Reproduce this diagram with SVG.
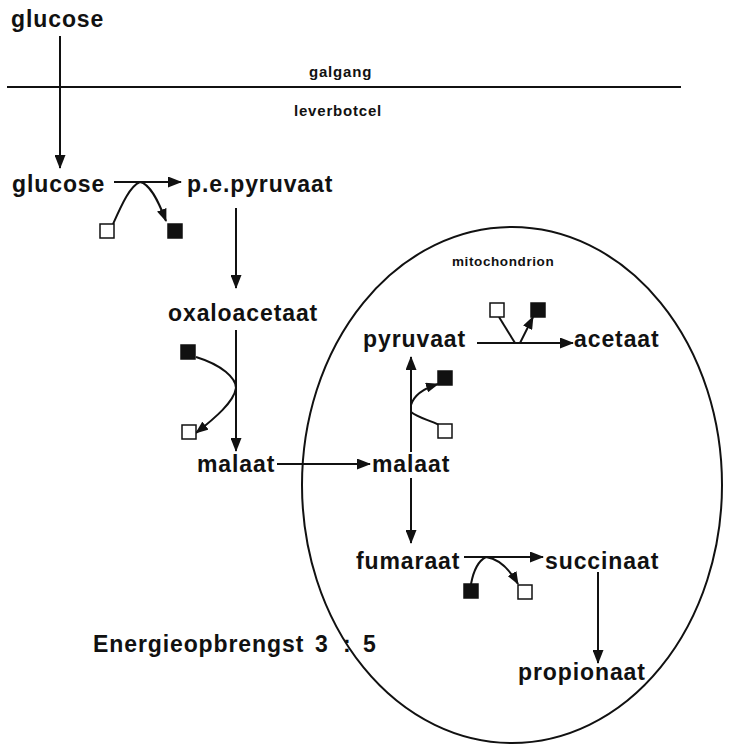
<svg xmlns="http://www.w3.org/2000/svg" width="730" height="746" viewBox="0 0 730 746">
<style>
.lbl{font-family:"Liberation Sans",Arial,Helvetica,sans-serif;font-weight:bold;font-size:23px;letter-spacing:0.9px;fill:#111}
.sm{font-family:"Liberation Sans",Arial,Helvetica,sans-serif;font-weight:bold;font-size:15px;letter-spacing:0.8px;fill:#111}
.xs{font-family:"Liberation Sans",Arial,Helvetica,sans-serif;font-weight:bold;font-size:13.5px;letter-spacing:0.6px;fill:#111}
.ln{fill:none;stroke:#111;stroke-width:2}
.arr{fill:none;stroke:#111;stroke-width:2;marker-end:url(#ah)}
.arrs{fill:none;stroke:#111;stroke-width:2;marker-end:url(#ahs)}
.open{fill:#fff;stroke:#111;stroke-width:1.5}
.fill{fill:#111;stroke:#111;stroke-width:1.5}
</style>
<defs>
<marker id="ah" viewBox="0 0 14 11" refX="13" refY="5.5" markerWidth="14" markerHeight="11" orient="auto" markerUnits="userSpaceOnUse"><path d="M0,0 L14,5.5 L0,11 z" fill="#111"/></marker>
<marker id="ahs" viewBox="0 0 13 10" refX="12" refY="5" markerWidth="13" markerHeight="10" orient="auto" markerUnits="userSpaceOnUse"><path d="M0,0 L13,5 L0,10 z" fill="#111"/></marker>
</defs>
<rect width="730" height="746" fill="#fff"/>

<g id="glucose-blood"><text class="lbl" x="11" y="27">glucose</text></g>
<g id="glucose-cell"><text class="lbl" x="12" y="192">glucose</text></g>
<g id="pep"><text class="lbl" x="187" y="192">p.e.pyruvaat</text></g>
<g id="oxaloacetaat"><text class="lbl" x="168" y="321">oxaloacetaat</text></g>
<g id="malaat-cyt"><text class="lbl" x="197" y="472">malaat</text></g>
<g id="pyruvaat"><text class="lbl" x="363" y="347">pyruvaat</text></g>
<g id="acetaat"><text class="lbl" x="574" y="347">acetaat</text></g>
<g id="malaat-mito"><text class="lbl" x="372" y="472">malaat</text></g>
<g id="fumaraat"><text class="lbl" x="356" y="569">fumaraat</text></g>
<g id="succinaat"><text class="lbl" x="545" y="569">succinaat</text></g>
<g id="propionaat"><text class="lbl" x="518" y="680">propionaat</text></g>
<g id="energie"><text class="lbl" x="93" y="652">Energieopbrengst<tspan x="315">3</tspan><tspan x="343">:</tspan><tspan x="363">5</tspan></text></g>

<g id="mitochondrion">
<ellipse cx="512" cy="485" rx="210" ry="258" class="ln"/>
<text class="xs" x="452" y="266">mitochondrion</text>
</g>

<g id="membrane">
<line x1="7" y1="87" x2="681" y2="87" class="ln"/>
<text class="sm" x="309" y="77">galgang</text>
<text class="sm" x="294" y="116">leverbotcel</text>
</g>

<g id="connectors">
<path class="arr" d="M60,36 V168"/>
<path class="arr" d="M114,182 H181"/>
<path class="arrs" d="M113,224 C122,204 130,186 140,182 C150,184 158,200 166,221"/>
<path class="arr" d="M236,208 V288"/>
<path class="arr" d="M236,330 V451"/>
<path class="arrs" d="M196,357 C222,365 236,378 236,388 C234,402 215,418 196,433"/>
<path class="arr" d="M277,464 H370"/>
<path class="arr" d="M411,452 V357"/>
<path class="arrs" d="M411,405 C414,395 425,388 438,384"/>
<path class="ln" d="M411,412 C418,418 430,420 439,425"/>
<path class="arr" d="M411,478 V543"/>
<path class="arr" d="M477,343 H573"/>
<path class="ln" d="M499,317 L515,343"/>
<path class="arrs" d="M520,343 L533,317"/>
<path class="arr" d="M464,557 H543"/>
<path class="arrs" d="M471,584 C474,568 480,560 486,557 C500,559 510,570 518,584"/>
<path class="arr" d="M598,572 V663"/>
</g>

<g id="cofactors">
<rect class="open" x="100" y="224" width="14" height="14"/>
<rect class="fill" x="168" y="224" width="14" height="14"/>
<rect class="fill" x="181" y="345" width="14" height="14"/>
<rect class="open" x="182" y="425" width="14" height="14"/>
<rect class="fill" x="438" y="371" width="14" height="14"/>
<rect class="open" x="438" y="424" width="14" height="14"/>
<rect class="open" x="490" y="303" width="14" height="14"/>
<rect class="fill" x="531" y="303" width="14" height="14"/>
<rect class="fill" x="464" y="584" width="14" height="14"/>
<rect class="open" x="518" y="585" width="14" height="14"/>
</g>
</svg>
